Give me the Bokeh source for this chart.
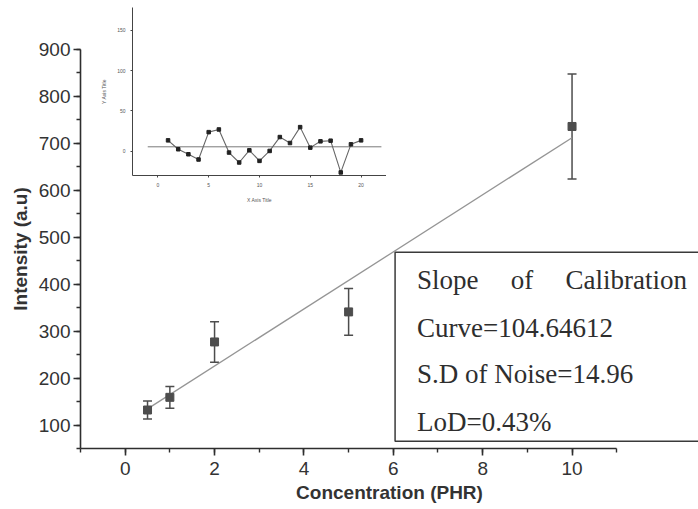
import numpy as np
from bokeh.plotting import figure
from bokeh.layouts import column
from bokeh.models import (ColumnDataSource, Whisker, TeeHead, Label,
                          Range1d, SingleIntervalTicker, FixedTicker)
from bokeh.embed import file_html
from bokeh.resources import INLINE

# ---------------- data ----------------
conc = [0.5, 1, 2, 5, 10]
intensity = [132, 159, 277, 341, 736]
err = [19, 23, 43, 50, 112]

noise_x = list(range(1, 21))
noise_y = [13.5, 2.5, -3.7, -10.2, 23.7, 27.0, -1.6, -13.9, 1.2, -11.9,
           0.4, 17.6, 10.2, 29.9, 4.5, 12.3, 13.1, -26.2, 8.6, 13.5]

box_words = ["Slope", "of", "Calibration"]
box_lines = ["Curve=104.64612", "S.D of Noise=14.96", "LoD=0.43%"]

inset_x_ticks = [0, 5, 10, 15, 20]
inset_y_ticks = [0, 50, 100, 150]

DARK = "#2e2e2e"
MARK = "#4d4d4d"

# ---------------- inset ----------------
pi = figure(frame_width=254, frame_height=168, output_backend="svg", toolbar_location=None,
            x_range=Range1d(-2.5, 22.5), y_range=Range1d(-30, 178),
            min_border_left=80, min_border_right=0, min_border_top=7, min_border_bottom=30)
pi.grid.visible = False
pi.outline_line_color = None
pi.background_fill_alpha = 0
pi.border_fill_alpha = 0
pi.xaxis.ticker = FixedTicker(ticks=inset_x_ticks)
pi.yaxis.ticker = FixedTicker(ticks=inset_y_ticks)
for ax in (pi.xaxis[0], pi.yaxis[0]):
    ax.axis_line_color = "#444"
    ax.axis_line_width = 1
    ax.major_tick_line_color = "#444"
    ax.minor_tick_line_color = None
    ax.major_tick_in = 0
    ax.major_tick_out = 2
    ax.major_label_text_font_size = "5px"
    ax.major_label_text_color = "#555"
    ax.major_label_standoff = 5
    ax.axis_label_text_font_size = "5px"
    ax.axis_label_text_font_style = "normal"
    ax.axis_label_text_color = "#555"
    ax.axis_label_standoff = 7
pi.xaxis.axis_label = "X Axis Title"
pi.yaxis.axis_label = "Y Axis Title"
mean_noise = float(np.mean(noise_y))
pi.line([-1, 22], [mean_noise, mean_noise], line_color="#7a7a7a", line_width=1)
pi.line(noise_x, noise_y, line_color="#666", line_width=1.1)
pi.scatter(noise_x, noise_y, marker="square", size=3.5, color="#222")

# ---------------- main ----------------
p = figure(frame_width=618, frame_height=399, output_backend="svg", toolbar_location=None,
           x_range=Range1d(-1, 12.83), y_range=Range1d(50, 900),
           min_border_left=80, min_border_right=0, min_border_top=49, min_border_bottom=61)
p.grid.visible = False
p.outline_line_color = None
p.background_fill_alpha = 0
p.border_fill_alpha = 0
p.margin = (-205, 0, 0, 0)
pi.margin = (0, 0, 0, 52)

p.xaxis.ticker = SingleIntervalTicker(interval=2, num_minor_ticks=2)
p.yaxis.ticker = SingleIntervalTicker(interval=100, num_minor_ticks=2)
p.xaxis.bounds = (-1, 11)
p.yaxis.bounds = (50, 900)
for ax in (p.xaxis[0], p.yaxis[0]):
    ax.axis_line_color = DARK
    ax.axis_line_width = 1.6
    ax.major_tick_line_color = DARK
    ax.major_tick_line_width = 1.6
    ax.minor_tick_line_color = DARK
    ax.minor_tick_line_width = 1.4
    ax.major_tick_in = 0
    ax.major_tick_out = 7
    ax.minor_tick_in = 0
    ax.minor_tick_out = 4
    ax.major_label_text_font = "Liberation Sans"
    ax.major_label_text_font_size = "19px"
    ax.major_label_text_color = "#333"
    ax.axis_label_text_font = "Liberation Sans"
    ax.axis_label_text_font_size = "19px"
    ax.axis_label_text_font_style = "bold"
    ax.axis_label_text_color = "#333"
p.xaxis.major_label_standoff = 6
p.yaxis.major_label_standoff = 3
p.xaxis.axis_label_standoff = 4
p.yaxis.axis_label_standoff = 5
p.xaxis.axis_label = "Concentration (PHR)"
p.yaxis.axis_label = "Intensity (a.u)"

# fitted calibration line (least squares on the data)
slope, intercept = np.polyfit(conc, intensity, 1)
fx = [min(conc), max(conc)]
p.line(fx, [slope * v + intercept for v in fx], line_color="#959595", line_width=1.3)

src = ColumnDataSource(dict(x=conc, y=intensity,
                            upper=[a + b for a, b in zip(intensity, err)],
                            lower=[a - b for a, b in zip(intensity, err)]))
p.add_layout(Whisker(base="x", upper="upper", lower="lower", source=src,
                     line_color=MARK, line_width=1.5,
                     upper_head=TeeHead(size=9, line_color=MARK, line_width=1.5),
                     lower_head=TeeHead(size=9, line_color=MARK, line_width=1.5)))
p.scatter("x", "y", source=src, marker="square", size=8, color=MARK)

# text box (right edge runs off the page, as in the original)
p.quad(left=6.04, right=14, bottom=65.5, top=468,
       fill_alpha=0, line_color="#3a3a3a", line_width=1.5)
font = "Liberation Serif"
fs = "27px"
p.add_layout(Label(x=6.53, y=410, text=box_words[0], text_font=font, text_font_size=fs,
                   text_color=DARK, text_align="left", text_baseline="alphabetic"))
p.add_layout(Label(x=8.88, y=410, text=box_words[1], text_font=font, text_font_size=fs,
                   text_color=DARK, text_align="center", text_baseline="alphabetic"))
p.add_layout(Label(x=12.57, y=410, text=box_words[2], text_font=font, text_font_size=fs,
                   text_color=DARK, text_align="right", text_baseline="alphabetic"))
for yy, t in zip([307, 208, 107], box_lines):
    p.add_layout(Label(x=6.53, y=yy, text=t, text_font=font, text_font_size=fs,
                       text_color=DARK, text_align="left", text_baseline="alphabetic"))

layout = column(pi, p)
open("out.html", "w").write(file_html(layout, INLINE))
